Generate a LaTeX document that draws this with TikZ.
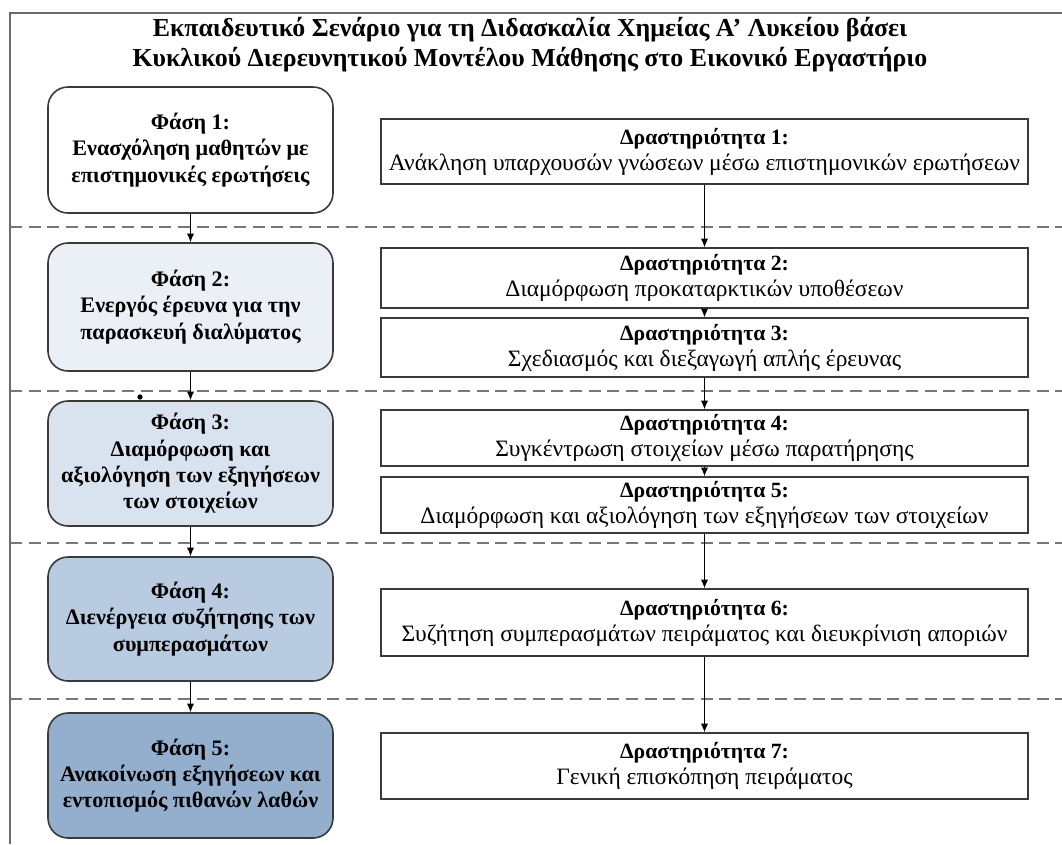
\documentclass[tikz,border=0pt]{standalone}
\usepackage{fontspec}
\setmainfont{Liberation Serif}
\usetikzlibrary{arrows.meta}
\definecolor{edge}{HTML}{3A3A3A}
\definecolor{frameline}{HTML}{6A6A6A}
\definecolor{sepline}{HTML}{777777}
\definecolor{phaseA}{HTML}{FFFFFF}
\definecolor{phaseB}{HTML}{EBF0F7}
\definecolor{phaseC}{HTML}{D9E3EF}
\definecolor{phaseD}{HTML}{B8CBE0}
\definecolor{phaseE}{HTML}{94AFCD}
\newcommand{\acthead}[1]{{\bfseries\fontsize{16.3}{19.5}\selectfont #1}}

\begin{document}
\begin{tikzpicture}[x=0.75pt,y=-0.75pt,
  phasebox/.style={draw=edge, line width=1.2pt, rounded corners=15pt,
    minimum width=213.75pt, align=center, inner sep=0pt,
    font=\bfseries\fontsize{16.6}{19.7}\selectfont},
  actbox/.style={draw=edge, line width=1.1pt, minimum width=485.25pt,
    align=center, inner sep=0pt, font=\fontsize{17.6}{19.5}\selectfont},
  flow/.style={-{Latex[length=6.5pt,width=5.5pt]}, line width=0.8pt, draw=black},
  sepdash/.style={draw=sepline, line width=1.2pt, dash pattern=on 9pt off 5pt},
  rim/.style={draw=frameline, line width=1.4pt}
]
% canvas
\useasboundingbox (0,0) rectangle (1062,844);
\fill[white] (0,0) rectangle (1062,844);

% outer frame (top and left edges)
\coordinate (fl) at (10,844);
\coordinate (ft) at (10,13);
\coordinate (fr) at (1062,13);
\draw[rim] (fl) -- (ft) -- (fr);

% title
\node[align=center, font=\bfseries\fontsize{19.4}{22.5}\selectfont] (title) at (530,45)
  {Εκπαιδευτικό Σενάριο για τη Διδασκαλία Χημείας Α’ Λυκείου βάσει\\
   Κυκλικού Διερευνητικού Μοντέλου Μάθησης στο Εικονικό Εργαστήριο};

% phase separators
\foreach \yy/\nm in {227/s1, 391/s2, 543/s3, 699/s4}{
  \coordinate (\nm a) at (10,\yy);
  \coordinate (\nm b) at (1062,\yy);
  \draw[sepdash] (\nm a) -- (\nm b);
}

% phases
\node[phasebox, fill=phaseA, minimum height=94.5pt] (p1) at (190.5,150)
  {Φάση 1:\\Ενασχόληση μαθητών με\\επιστημονικές ερωτήσεις};
\node[phasebox, fill=phaseB, minimum height=96pt] (p2) at (190.5,307)
  {Φάση 2:\\Ενεργός έρευνα για την\\παρασκευή διαλύματος};
\node[phasebox, fill=phaseC, minimum height=93.75pt] (p3) at (190.5,463.5)
  {Φάση 3:\\Διαμόρφωση και\\αξιολόγηση των εξηγήσεων\\των στοιχείων};
\node[phasebox, fill=phaseD, minimum height=93pt] (p4) at (190.5,619)
  {Φάση 4:\\Διενέργεια συζήτησης των\\συμπερασμάτων};
\node[phasebox, fill=phaseE, minimum height=93.75pt] (p5) at (190.5,775.5)
  {Φάση 5:\\Ανακοίνωση εξηγήσεων και\\εντοπισμός πιθανών λαθών};

% activities
\node[actbox, minimum height=48.75pt] (a1) at (704.5,151.5)
  {\acthead{Δραστηριότητα 1:}\\Ανάκληση υπαρχουσών γνώσεων μέσω επιστημονικών ερωτήσεων};
\node[actbox, minimum height=45pt] (a2) at (704.5,278)
  {\acthead{Δραστηριότητα 2:}\\Διαμόρφωση προκαταρκτικών υποθέσεων};
\node[actbox, minimum height=44.25pt] (a3) at (704.5,347.5)
  {\acthead{Δραστηριότητα 3:}\\Σχεδιασμός και διεξαγωγή απλής έρευνας};
\node[actbox, minimum height=42pt] (a4) at (704.5,438)
  {\acthead{Δραστηριότητα 4:}\\Συγκέντρωση στοιχείων μέσω παρατήρησης};
\node[actbox, minimum height=42pt] (a5) at (704.5,505)
  {\acthead{Δραστηριότητα 5:}\\Διαμόρφωση και αξιολόγηση των εξηγήσεων των στοιχείων};
\node[actbox, minimum height=50.25pt] (a6) at (704.5,622.5)
  {\acthead{Δραστηριότητα 6:}\\Συζήτηση συμπερασμάτων πειράματος και διευκρίνιση αποριών};
\node[actbox, minimum height=49.5pt] (a7) at (704.5,766)
  {\acthead{Δραστηριότητα 7:}\\Γενική επισκόπηση πειράματος};

% flow between phases
\draw[flow] (p1) -- (p2);
\draw[flow] (p2) -- (p3);
\draw[flow] (p3) -- (p4);
\draw[flow] (p4) -- (p5);

% flow between activities
\draw[flow] (a1) -- (a2);
\draw[flow] (a2) -- (a3);
\draw[flow] (a3) -- (a4);
\draw[flow] (a4) -- (a5);
\draw[flow] (a5) -- (a6);
\draw[flow] (a6) -- (a7);

% small dot above phase 3
\fill[black] (140,397) circle[radius=2pt];
\end{tikzpicture}
\end{document}
